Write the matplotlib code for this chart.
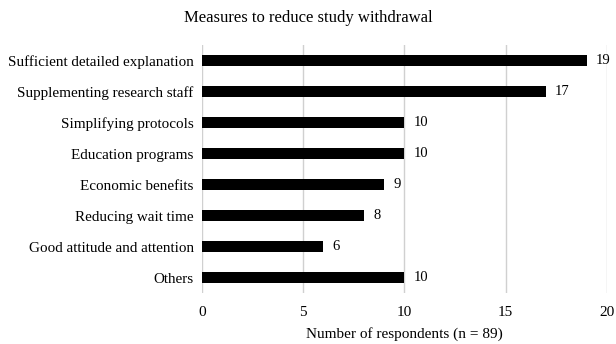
import matplotlib
matplotlib.use("Agg")
import matplotlib.pyplot as plt

# Daten
measures = [
    "Sufficient detailed explanation",
    "Supplementing research staff",
    "Simplifying protocols",
    "Education programs",
    "Economic benefits",
    "Reducing wait time",
    "Good attitude and attention",
    "Others",
]
counts = [19, 17, 10, 10, 9, 8, 6, 10]
xticks = [0, 5, 10, 15, 20]

plt.rcParams['font.family'] = ['Liberation Serif', 'DejaVu Serif']

fig = plt.figure(figsize=(6.16, 3.44), dpi=100)
ax = fig.add_axes([0.328, 0.148, 0.657, 0.721])

pos = list(range(len(measures)))
ax.barh(pos, counts, height=0.35, color='black', zorder=3)
for p, c in zip(pos, counts):
    ax.text(c + 0.45, p, str(c), va='center', ha='left', fontsize=10.5)

ax.set_yticks(pos)
ax.set_yticklabels(measures, fontsize=10.9)
ax.set_ylim(len(measures) - 0.5, -0.5)
ax.set_xlim(0, 20)
ax.set_xticks(xticks)
ax.set_xticklabels([str(t) for t in xticks], fontsize=11)
ax.tick_params(axis='x', length=0, pad=9)
ax.tick_params(axis='y', length=0, pad=6)
ax.grid(axis='x', color='#d0d0d0', linewidth=1, zorder=0)
for s in ax.spines.values():
    s.set_visible(False)

ax.set_xlabel("Number of respondents (n = 89)", fontsize=11, labelpad=6)
fig.text(0.5, 0.947, "Measures to reduce study withdrawal", ha='center', va='center', fontsize=12)

fig.savefig("out.png", dpi=100)
